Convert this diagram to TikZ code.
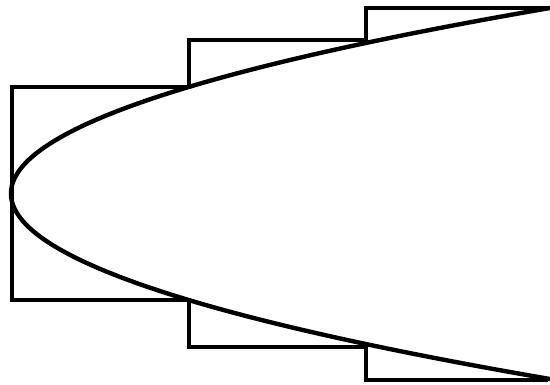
\documentclass[tikz,border=0pt]{standalone}
\begin{document}
\begin{tikzpicture}[x=1pt,y=-1pt,
  stroke/.style={line width=4.4pt,line join=miter,black}]
\useasboundingbox (0,0) rectangle (550,384);
\fill[white] (0,0) rectangle (550,384);
% step outline
\draw[stroke] (548,8) -- (366,8) -- (366,40) -- (189,40) -- (189,87) -- (12,87)
  -- (12,300) -- (189,300) -- (189,347) -- (366,347) -- (366,380) -- (548,380);
% parabola
\draw[stroke] plot[domain=-1:1,samples=201,smooth]
  ({11+553.5*\x*\x},{193.5+188*\x});
\end{tikzpicture}
\end{document}
